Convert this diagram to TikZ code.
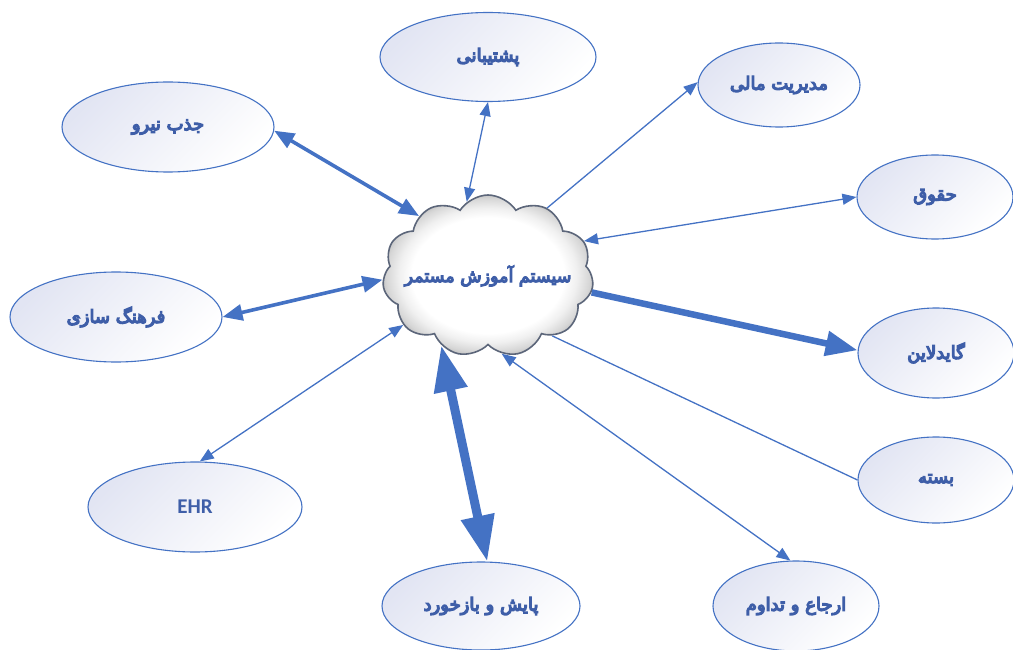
\documentclass[tikz,border=0pt]{standalone}
\usepackage{fontspec}
\usetikzlibrary{shapes.symbols,shapes.geometric,arrows.meta}
\TeXXeTstate=1
\newfontfamily\fa[Script=Arabic, FakeBold=7]{DejaVu Sans}
\newfontfamily\lat{Carlito}
\definecolor{linkblue}{RGB}{68,114,196}
\definecolor{txtblue}{RGB}{62,94,168}
\definecolor{lav}{RGB}{226,229,243}
\definecolor{cloudrim}{RGB}{92,102,122}
% white centre, grey towards the puffs (path box spans +-25bp)
\pgfdeclareradialshading{puffshade}{\pgfpoint{0bp}{0bp}}{%
  color(0bp)=(white); color(18bp)=(white); color(21bp)=(black!6);
  color(24bp)=(black!16); color(26bp)=(black!28); color(50bp)=(black!28)}
\begin{document}
\begin{tikzpicture}[x=1pt,y=-1pt,
  topic/.style n args={2}{ellipse, draw=linkblue, line width=1.1pt,
    top color=lav, bottom color=white, shading angle=45,
    minimum width=#1pt, minimum height=#2pt, inner sep=0pt,
    text=txtblue, font=\fontsize{18}{20}\selectfont},
  hub/.style={cloud, cloud puffs=11, cloud puff arc=115, aspect=1.3,
    draw=cloudrim, line width=1.6pt, shading=puffshade,
    minimum width=211pt, minimum height=162pt, inner sep=0pt,
    text=txtblue, font=\fontsize{17.5}{19}\selectfont},
  thinlink/.style={draw=linkblue, line width=1.3pt,
    >={Triangle[length=14pt,width=11pt]}},
  midlink/.style={draw=linkblue, line width=3.6pt,
    >={Triangle[length=20pt,width=16pt]}},
  widelink/.style={draw=linkblue, line width=6.5pt,
    >={Triangle[length=32pt,width=24pt]}},
  heavylink/.style={draw=linkblue, line width=9pt,
    >={Triangle[length=46pt,width=32pt]}}]

\useasboundingbox (0,0) rectangle (1013,650);

% central hub; the caption box has zero width so the cloud keeps its size
\node[hub] (hub) at (488,276) {\makebox[0pt]{\fa\beginR سیستم آموزش مستمر\endR}};

% surrounding topics
\node[topic={212}{90}] (jazb) at (168,127) {\fa\beginR جذب نیرو\endR};
\node[topic={216}{89}] (posh) at (488,57) {\fa\beginR پشتیبانی\endR};
\node[topic={162}{84}] (mali) at (779,85) {\fa\beginR مدیریت مالی\endR};
\node[topic={156}{84}] (hoghugh) at (935,197) {\fa\beginR حقوق\endR};
\node[topic={156}{90}] (guide) at (936,353) {\fa\beginR گایدلاین\endR};
\node[topic={156}{86}] (basteh) at (936,480) {\fa\beginR بسته\endR};
\node[topic={166}{90}] (erja) at (796,606) {\fa\beginR ارجاع و تداوم\endR};
\node[topic={198}{88}] (payesh) at (481,606) {\fa\beginR پایش و بازخورد\endR};
\node[topic={214}{90}] (ehr) at (195,507) {\lat\bfseries\fontsize{21}{23}\selectfont EHR};
\node[topic={212}{90}] (farhang) at (116,317) {\fa\beginR فرهنگ سازی\endR};

% connectors
\draw[midlink, <->] (jazb.-2) -- (hub.139);
\draw[thinlink, <->] (posh.-90) -- (hub.106);
\draw[thinlink, ->] (hub.49) -- (mali.178);
\draw[thinlink, <->] (hub.20) -- (hoghugh.180);
\draw[widelink, ->] (hub.-9) -- (guide.178);
\draw[thinlink] (hub.-43) -- (basteh.180);
\draw[thinlink, <->] (hub.-80) -- (erja.97);
\draw[heavylink, <->] (hub.-124) -- (payesh.82);
\draw[thinlink, <->] (hub.-150) -- (ehr.84);
\draw[midlink, <->] (farhang.0) -- (hub.-178);
\end{tikzpicture}
\end{document}
